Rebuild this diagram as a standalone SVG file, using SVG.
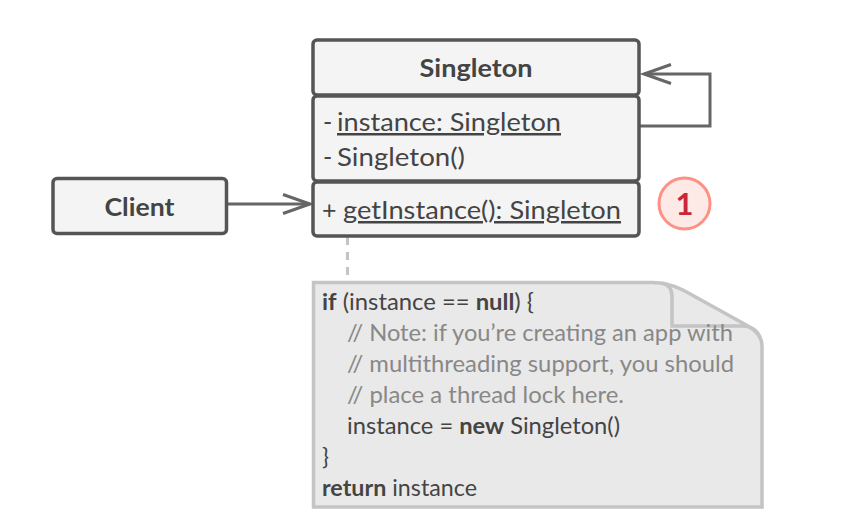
<svg xmlns="http://www.w3.org/2000/svg" width="863" height="523" viewBox="0 0 863 523">
<style>
.t{font-family:"Lato","Noto Sans",sans-serif;font-size:25px;fill:#444}
.n{font-family:"Lato","Noto Sans",sans-serif;font-size:23px;fill:#444}
.c{fill:#888}
.b{font-weight:700}
.box{fill:#f4f4f4;stroke:#555;stroke-width:3.5}
.conn{fill:none;stroke:#666;stroke-width:3}
</style>
<rect width="863" height="523" fill="#fff"/>
<g id="connectors">
<path class="conn" d="M639 126H710V74H644"/>
<path class="conn" d="M671 64.500L644 74L671 83.500"/>
<path class="conn" d="M227 204H310"/>
<path class="conn" d="M283 194.500L310 204L283 213.500"/>
<path d="M347.500 237V282" fill="none" stroke="#c4c4c4" stroke-width="3" stroke-dasharray="8 7"/>
</g>
<g id="client">
<rect class="box" x="53" y="178.500" width="173.500" height="55" rx="4"/>
<text class="t b" x="139.500" y="215.500" text-anchor="middle" textLength="70" lengthAdjust="spacingAndGlyphs">Client</text>
</g>
<g id="singleton">
<rect class="box" x="313" y="40" width="326" height="55" rx="4"/>
<rect class="box" x="313" y="96" width="326" height="85" rx="4"/>
<rect class="box" x="313" y="182" width="326" height="54" rx="4"/>
<text class="t b" x="476" y="77" text-anchor="middle" textLength="113" lengthAdjust="spacingAndGlyphs">Singleton</text>
<text class="t" x="323" y="131">-</text>
<text class="t" x="337" y="131" text-decoration="underline" textLength="224" lengthAdjust="spacingAndGlyphs">instance: Singleton</text>
<text class="t" x="323" y="166">-</text>
<text class="t" x="337" y="166" textLength="128" lengthAdjust="spacingAndGlyphs">Singleton()</text>
<text class="t" x="322" y="219">+</text>
<text class="t" x="343" y="219" text-decoration="underline" textLength="278" lengthAdjust="spacingAndGlyphs">getInstance(): Singleton</text>
</g>
<g id="badge">
<circle cx="684.500" cy="203.500" r="25.500" fill="#fde9e6" stroke="#ff9085" stroke-width="3"/>
<text x="684.500" y="214.500" text-anchor="middle" font-family="Lato,'Noto Sans',sans-serif" font-weight="700" font-size="31" fill="#c8273a">1</text>
</g>
<g id="note">
<path d="M313.500 282.500H652Q668 282.500 683 290L748 326Q762 334 762 346V507H313.500Z" fill="#e9e9e9" stroke="#c4c4c4" stroke-width="3.500"/>
<path d="M662 283Q672 285 672 297V326H742Q755 326 760 337" fill="none" stroke="#c4c4c4" stroke-width="3.500"/>
<text class="n" x="322" y="310" textLength="212" lengthAdjust="spacingAndGlyphs"><tspan class="b">if</tspan> (instance == <tspan class="b">null</tspan>) {</text>
<text class="n c" x="347" y="341" textLength="386" lengthAdjust="spacingAndGlyphs">// Note: if you’re creating an app with</text>
<text class="n c" x="347" y="372" textLength="387" lengthAdjust="spacingAndGlyphs">// multithreading support, you should</text>
<text class="n c" x="347" y="403" textLength="277" lengthAdjust="spacingAndGlyphs">// place a thread lock here.</text>
<text class="n" x="347" y="434" textLength="273" lengthAdjust="spacingAndGlyphs">instance = <tspan class="b">new</tspan> Singleton()</text>
<text class="n" x="322" y="465">}</text>
<text class="n" x="322" y="496" textLength="155" lengthAdjust="spacingAndGlyphs"><tspan class="b">return</tspan> instance</text>
</g>
</svg>
